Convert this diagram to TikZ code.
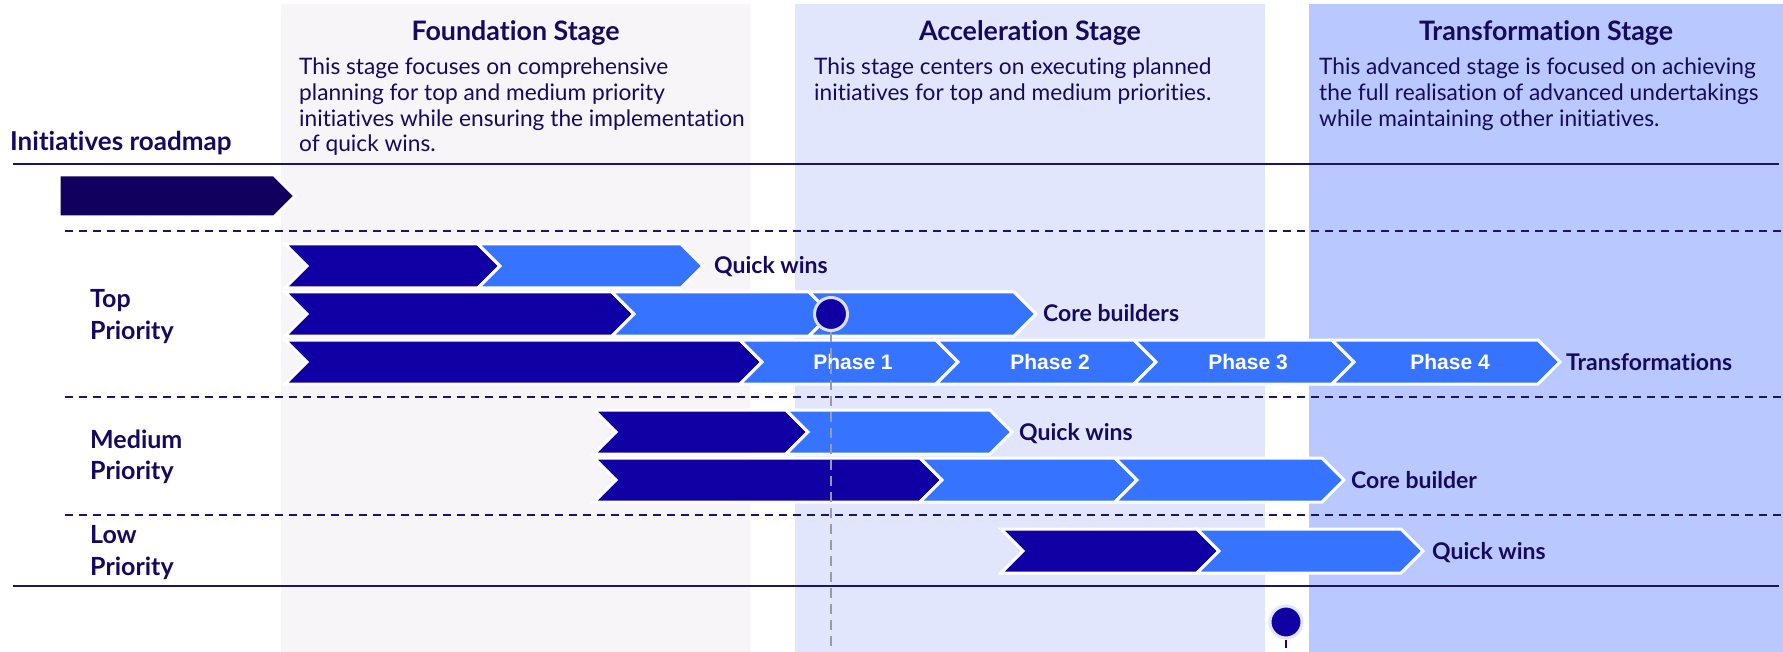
\documentclass[tikz,border=0pt]{standalone}
\usepackage{fontspec}
\setmainfont{Lato}[Ligatures={NoCommon}]
\newfontfamily\phasefont{Liberation Sans}
\definecolor{navy}{HTML}{170A5E}
\definecolor{linec}{HTML}{1E1466}
\definecolor{darkb}{HTML}{1000A3}
\definecolor{lightb}{HTML}{3674FF}
\definecolor{roadb}{HTML}{12005E}
\definecolor{fgray}{HTML}{F7F5F7}
\definecolor{accbg}{HTML}{E1E6FC}
\definecolor{trbg}{HTML}{B9C8FE}
\definecolor{ringc}{HTML}{D9E0F7}
\definecolor{vgray}{HTML}{9A9AA6}
\tikzset{
  chev/.style={draw=white, line width=3pt, line join=miter},
  dchev/.style={chev, fill=darkb},
  lchev/.style={chev, fill=lightb},
  stagetitle/.style={anchor=base, inner sep=0, text=navy, font=\bfseries\fontsize{26.8}{30}\selectfont},
  bodytxt/.style={anchor=base west, inner sep=0, text=navy, font=\fontsize{22.7}{26}\selectfont},
  rowlbl/.style={anchor=base west, inner sep=0, text=navy, font=\bfseries\fontsize{23}{26}\selectfont},
  prio/.style={anchor=base west, inner sep=0, text=navy, font=\bfseries\fontsize{25}{30}\selectfont},
  phase/.style={anchor=base, inner sep=0, text=white, font=\phasefont\bfseries\fontsize{21}{24}\selectfont},
  solidrule/.style={draw=linec, line width=2pt},
  dashrule/.style={draw=linec, line width=2pt, dash pattern=on 8pt off 6pt},
  marker/.style={circle, fill=darkb, draw=ringc, line width=3pt, minimum size=33pt, inner sep=0},
}
% chevron: style, x0, x1, ytop, ybottom
\newcommand{\chv}[5]{%
  \path[#1] (#2,#4) -- (#3,#4) -- ({#3+22},{(#4+#5)/2}) -- (#3,#5) -- (#2,#5) -- ({#2+22},{(#4+#5)/2}) -- cycle;}
\begin{document}
\begin{tikzpicture}[x=1pt,y=-1pt]
\useasboundingbox (0,0) rectangle (1783,652);
\fill[white] (0,0) rectangle (1783,652);
% stage backgrounds
\fill[fgray] (281,4) rectangle (750,652);
\fill[accbg] (795,4) rectangle (1265,652);
\fill[trbg] (1309,4) rectangle (1783,652);
% stage titles
\node[stagetitle] (t1) at (515.5,41) {Foundation Stage};
\node[stagetitle] (t2) at (1030,41) {Acceleration Stage};
\node[stagetitle] (t3) at (1546,41) {Transformation Stage};
% stage descriptions
\node[bodytxt] (f1) at (299,75) {This stage focuses on comprehensive};
\node[bodytxt] (f2) at (299,100.7) {planning for top and medium priority};
\node[bodytxt] (f3) at (299,126.4) {initiatives while ensuring the implementation};
\node[bodytxt] (f4) at (299,152) {of quick wins.};
\node[bodytxt] (a1) at (814,75) {This stage centers on executing planned};
\node[bodytxt] (a2) at (814,100.7) {initiatives for top and medium priorities.};
\node[bodytxt] (r1) at (1319,75) {This advanced stage is focused on achieving};
\node[bodytxt] (r2) at (1319,100.7) {the full realisation of advanced undertakings};
\node[bodytxt] (r3) at (1319,126.4) {while maintaining other initiatives.};
% roadmap heading
\node[anchor=base west, inner sep=0, text=navy, font=\bfseries\fontsize{26}{30}\selectfont] (road) at (10,151) {Initiatives roadmap};
% rules
\draw[solidrule] (13,164.5) -- (1779,164.5);
\draw[dashrule] (65,231) -- (1783,231);
\draw[dashrule] (65,397) -- (1783,397);
\draw[dashrule] (65,515) -- (1783,515);
\draw[solidrule] (13,585.5) -- (1779,585.5);
% roadmap arrow
\path[chev, fill=roadb] (59,175) -- (274,175) -- (295,196) -- (274,217) -- (59,217) -- cycle;
% priority labels
\node[prio] (top1) at (90,308) {Top};
\node[prio] (top2) at (90,339) {Priority};
\node[prio] (med1) at (90,448) {Medium};
\node[prio] (med2) at (90,479) {Priority};
\node[prio] (low1) at (90,543) {Low};
\node[prio] (low2) at (90,575) {Priority};
% Top priority rows
\chv{dchev}{285}{478}{244}{288}
\chv{lchev}{478}{681}{244}{288}
\node[rowlbl] (qw1) at (714,274) {Quick wins};
\chv{dchev}{285}{612}{292}{336}
\chv{lchev}{612}{809}{292}{336}
\chv{lchev}{809}{1014}{292}{336}
\node[rowlbl] (cb1) at (1043,322) {Core builders};
\chv{dchev}{285}{740}{340}{384}
\chv{lchev}{740}{936}{340}{384}
\chv{lchev}{936}{1134}{340}{384}
\chv{lchev}{1134}{1332}{340}{384}
\chv{lchev}{1332}{1538}{340}{384}
\node[phase] (p1) at (853,369.5) {Phase 1};
\node[phase] (p2) at (1050,369.5) {Phase 2};
\node[phase] (p3) at (1248,369.5) {Phase 3};
\node[phase] (p4) at (1450,369.5) {Phase 4};
\node[rowlbl] (tr1) at (1566,370) {Transformations};
% Medium priority rows
\chv{dchev}{594}{786}{410}{454}
\chv{lchev}{786}{990}{410}{454}
\node[rowlbl] (qw2) at (1019,440) {Quick wins};
\chv{dchev}{594}{920}{458}{502}
\chv{lchev}{920}{1115}{458}{502}
\chv{lchev}{1115}{1322}{458}{502}
\node[rowlbl] (cb2) at (1351,488) {Core builder};
% Low priority row
\chv{dchev}{1001}{1197}{529}{573}
\chv{lchev}{1197}{1401}{529}{573}
\node[rowlbl] (qw3) at (1432,559) {Quick wins};
% today marker and dashed guide
\coordinate (guideend) at (831,652);
\node[marker] (now) at (831,314) {};
\draw[draw=vgray, line width=1.5pt, dash pattern=on 10pt off 6pt] (now.south) -- (guideend);
% milestone marker
\node[marker, draw=accbg, minimum size=32pt] (mile) at (1286,622) {};
\coordinate (tickend) at (1286,648);
\draw[draw=darkb, line width=1.5pt] (mile.south) -- (tickend);
\end{tikzpicture}
\end{document}
